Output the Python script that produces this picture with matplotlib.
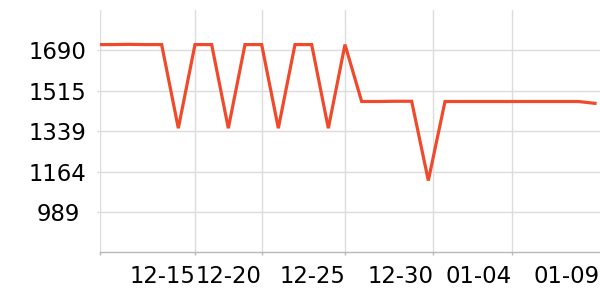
import numpy as np
import matplotlib.pyplot as plt
from matplotlib.transforms import ScaledTranslation

# daily values (equally spaced points along the x axis)
values = [1715, 1715, 1716, 1715, 1715, 1352, 1715, 1715, 1352, 1715,
          1715, 1352, 1715, 1715, 1352, 1715, 1468, 1468, 1469, 1469,
          1125, 1468, 1468, 1468, 1468, 1468, 1468, 1468, 1468, 1468,
          1460]

# x tick positions (in point index units) and their labels
tick_pos = [0.32, 6, 10, 15, 20.3, 25]
tick_labels = ['', '12-15', '12-20', '12-25', '12-30', '01-04']
last_label = '01-09'

# y range split into 6 equal steps, labels rounded
y_lo, y_hi = 813.6, 1865.1
y_step = (y_hi - y_lo) / 6
y_ticks = [y_lo + y_step * k for k in range(1, 6)]
y_labels = [str(int(round(v))) for v in y_ticks]

line_color = '#ee4a2b'
grid_color = '#dcdcdc'

fig = plt.figure(figsize=(6, 3), dpi=100)
ax = fig.add_axes([0.1672, 0.159, 0.8328, 0.8077])

x = np.arange(len(values))
ax.plot(x, values, color=line_color, linewidth=2.3, solid_joinstyle='miter', zorder=3)

ax.set_xlim(0.32, 30.3)
ax.set_ylim(y_lo, y_hi)

ax.set_xticks(tick_pos)
ax.set_xticklabels(tick_labels, fontsize=16.4, ha='right')
ax.set_yticks(y_ticks)
ax.set_yticklabels(y_labels, fontsize=16.4, ha='center')

ax.tick_params(axis='x', length=2, width=1, color='#b8b8b8', pad=7.4)
ax.tick_params(axis='y', length=2, width=1, color=grid_color, pad=28.6)

ax.grid(True, color=grid_color, linewidth=1)
ax.set_axisbelow(True)

for side in ['top', 'right', 'left']:
    ax.spines[side].set_visible(False)
ax.spines['bottom'].set_color('#b8b8b8')
ax.spines['bottom'].set_linewidth(1)

# last date label has no tick, it sits flush with the right edge
ax.text(30.3, -0.053, last_label, transform=ax.get_xaxis_transform(),
        ha='right', va='top', fontsize=16.4)

fig.savefig('out.png', dpi=100)
